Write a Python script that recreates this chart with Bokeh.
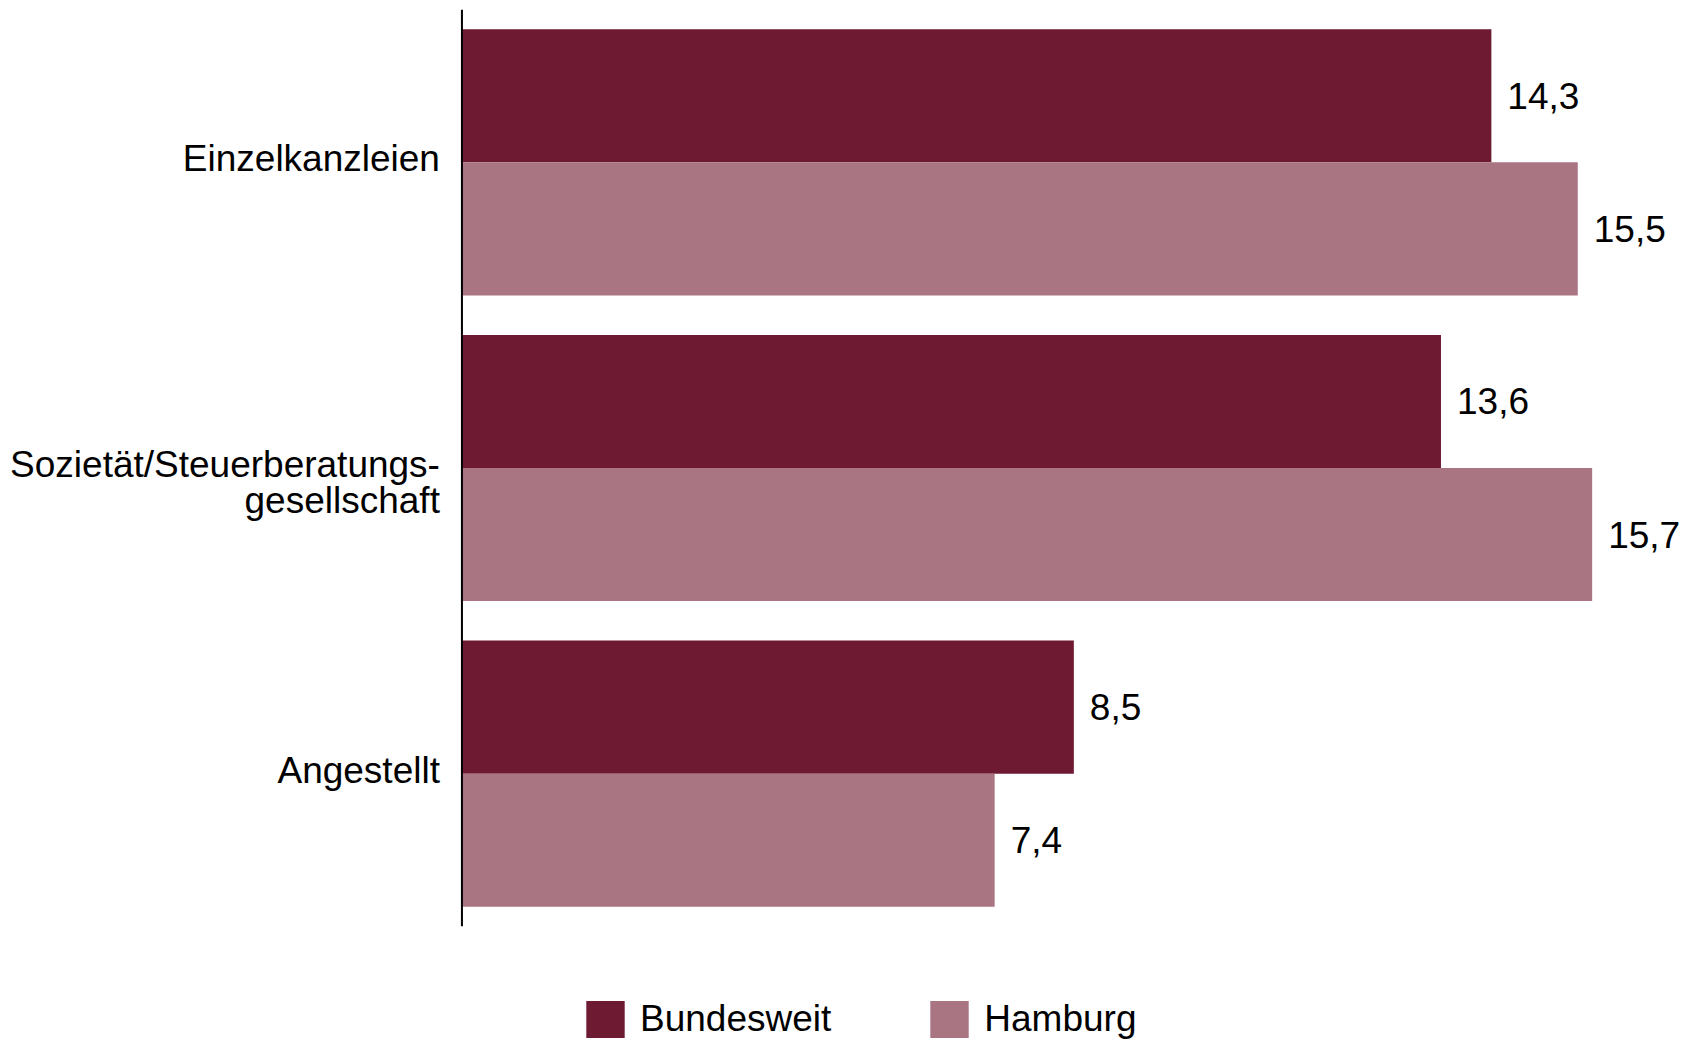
from bokeh.plotting import figure
from bokeh.layouts import column
from bokeh.models import FactorRange, Range1d, ColumnDataSource, Legend, LegendItem, Span
from bokeh.transform import dodge
from bokeh.core.properties import value
from bokeh.embed import file_html
from bokeh.resources import INLINE

categories = ["Einzelkanzleien", "Sozietät/Steuerberatungs-\ngesellschaft", "Angestellt"]
series = ["Bundesweit", "Hamburg"]
bundesweit = [14.3, 13.6, 8.5]
hamburg = [15.5, 15.7, 7.4]
colors = ["#6F1A33", "#A97583"]

FONT = "Liberation Sans"

def fmt(v):
    return f"{v:.1f}".replace(".", ",")

src = ColumnDataSource(dict(
    cat=categories,
    b=bundesweit,
    h=hamburg,
    bl=[fmt(v) for v in bundesweit],
    hl=[fmt(v) for v in hamburg],
))

p = figure(
    width=1691, height=930,
    y_range=FactorRange(factors=categories[::-1], range_padding=0),
    x_range=Range1d(-6.41, 17.08),
    output_backend="svg", toolbar_location=None,
    min_border_top=9, min_border_bottom=4, min_border_right=0, min_border_left=0,
)

off = 0.2177
hgt = 0.4354
r1 = p.hbar(y=dodge("cat", off, range=p.y_range), left=0, right="b", height=hgt,
            source=src, fill_color=colors[0], line_color=None)
r2 = p.hbar(y=dodge("cat", -off, range=p.y_range), left=0, right="h", height=hgt,
            source=src, fill_color=colors[1], line_color=None)

# value labels
p.text(x="b", y=dodge("cat", off, range=p.y_range), text="bl", source=src,
       x_offset=16, text_baseline="middle", text_align="left",
       text_font=value(FONT), text_font_size="37px", text_color="black")
p.text(x="h", y=dodge("cat", -off, range=p.y_range), text="hl", source=src,
       x_offset=16, text_baseline="middle", text_align="left",
       text_font=value(FONT), text_font_size="37px", text_color="black")

# category labels
p.text(x=0, y="cat", text="cat", source=src,
       x_offset=-22, y_offset=-24, text_baseline="top", text_align="right",
       text_line_height=0.87,
       text_font=value(FONT), text_font_size="37px", text_color="black")

# vertical axis line
p.add_layout(Span(location=0, dimension="height", line_color="black", line_width=2))

p.xaxis.visible = False
p.yaxis.visible = False
p.xgrid.visible = False
p.ygrid.visible = False
p.outline_line_color = None

# legend row below the chart
lg = figure(
    width=1691, height=122,
    x_range=Range1d(0, 1), y_range=Range1d(0, 1),
    output_backend="svg", toolbar_location=None,
    min_border_top=0, min_border_bottom=0, min_border_left=0, min_border_right=0,
)
lr1 = lg.hbar(y="b", right="b", height=0, source=src, fill_color=colors[0],
              line_color=None, visible=False)
lr2 = lg.hbar(y="h", right="h", height=0, source=src, fill_color=colors[1],
              line_color=None, visible=False)
lg.xaxis.visible = False
lg.yaxis.visible = False
lg.xgrid.visible = False
lg.ygrid.visible = False
lg.outline_line_color = None

legend = Legend(
    items=[LegendItem(label=series[0], renderers=[lr1]),
           LegendItem(label=series[1], renderers=[lr2])],
    location=(581, 10), orientation="horizontal",
    glyph_width=48, glyph_height=46, label_standoff=11, spacing=94,
    padding=0, margin=0, border_line_color=None, background_fill_alpha=0,
    label_text_font=FONT, label_text_font_size="37px", label_text_color="black",
)
lg.add_layout(legend)

layout = column(p, lg, spacing=0)
open("out.html", "w").write(file_html(layout, INLINE))
